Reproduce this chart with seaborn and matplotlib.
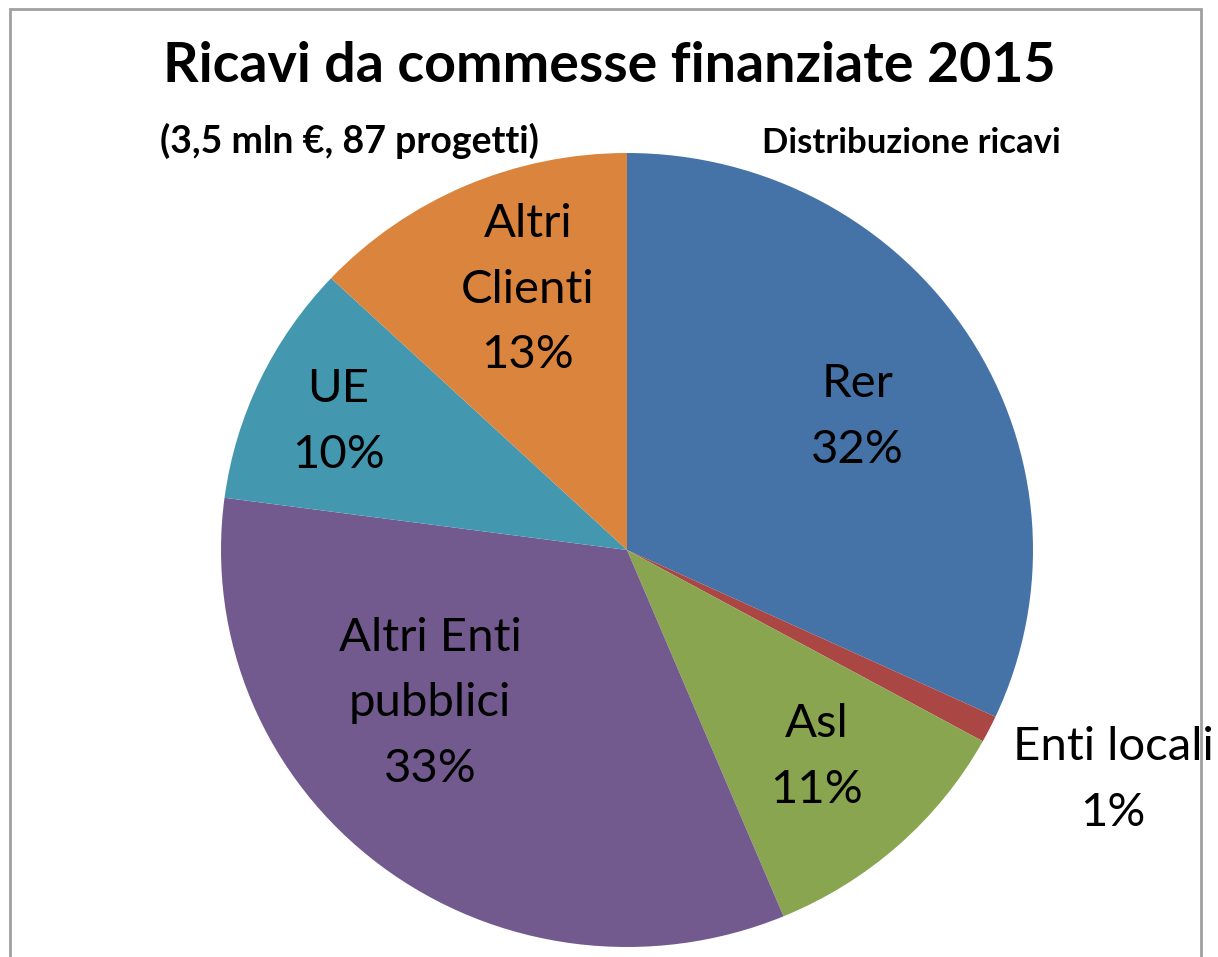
import matplotlib
matplotlib.use("Agg")
import matplotlib.pyplot as plt
from matplotlib.patches import Rectangle
import numpy as np
import seaborn as sns

# ---- data ------------------------------------------------------------------
categories = ["Rer", "Enti locali", "Asl", "Altri Enti\npubblici", "UE", "Altri\nClienti"]
shares = [31.9, 1.1, 10.7, 33.4, 9.9, 13.0]
colors = ["#4673A7", "#AA4644", "#8AA54F", "#725A8E", "#4398AF", "#DB843D"]

title = "Ricavi da commesse finanziate 2015"
subtitle = "(3,5 mln €, 87 progetti)"
side_note = "Distribuzione ricavi"

# label placement: (radius as fraction of pie, angle shift in degrees)
LABEL_POS = {"Rer": (0.66, -2), "Enti locali": (1.33, 1), "Asl": (0.70, 0),
             "Altri Enti\npubblici": (0.62, -14), "UE": (0.78, 1),
             "Altri\nClienti": (0.70, -3)}

sns.set_theme(style="white")
plt.rcParams["font.family"] = ["Lato", "DejaVu Sans"]
plt.rcParams["text.color"] = "black"

W, H = 1218, 957
fig = plt.figure(figsize=(W / 100, H / 100), dpi=100)
fig.patch.set_facecolor("white")

# pie box: centre (627, 550) px, radii 406 x 397 px
ax = fig.add_axes([(627 - 406) / W, (H - 550 - 397) / H, 812 / W, 794 / H])
wedges, _ = ax.pie(shares, colors=sns.color_palette(colors), startangle=90,
                   counterclock=False, wedgeprops=dict(linewidth=0))
ax.set_xlim(-1, 1)
ax.set_ylim(-1, 1)
ax.set_aspect("auto")
ax.axis("off")

total = sum(shares)
for w, cat, v in zip(wedges, categories, shares):
    r, shift = LABEL_POS[cat]
    mid = np.deg2rad((w.theta1 + w.theta2) / 2 + shift)
    ax.text(r * np.cos(mid), r * np.sin(mid), f"{cat}\n{v / total * 100:.0f}%",
            ha="center", va="center", fontsize=34, linespacing=1.7,
            color="black", clip_on=False)

# titles
fig.text(609 / W, 1 - 82 / H, title, ha="center", va="baseline",
         fontsize=40, fontweight="bold", color="black")
fig.text(160 / W, 1 - 153 / H, subtitle, ha="left", va="baseline",
         fontsize=27, fontweight="bold", color="black")
fig.text(762 / W, 1 - 153 / H, side_note, ha="left", va="baseline",
         fontsize=25, fontweight="bold", color="black")

# chart-area border (open at the bottom)
fig.patches.append(Rectangle((10 / W, -0.05), 1191 / W, (H - 9) / H + 0.05,
                             transform=fig.transFigure, fill=False,
                             edgecolor="#A0A0A0", linewidth=2))

fig.savefig("out.png", dpi=100)
